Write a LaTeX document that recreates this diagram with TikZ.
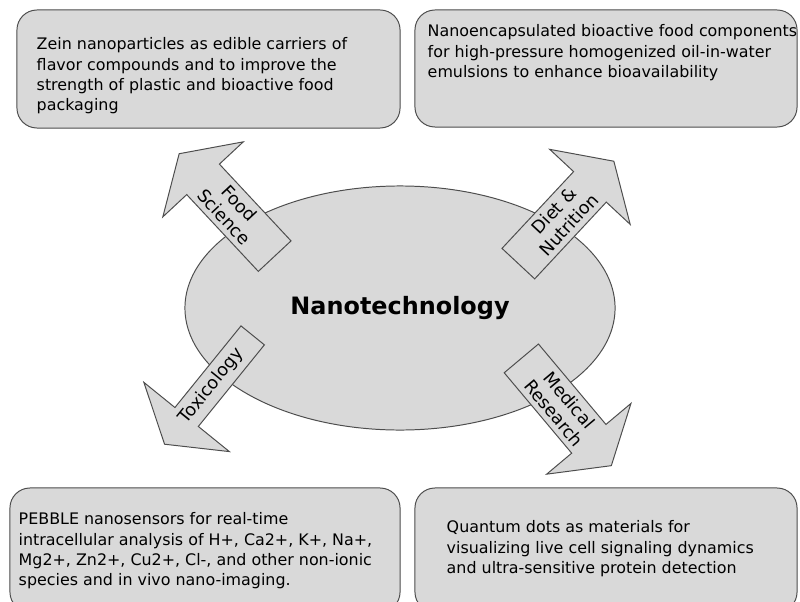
\documentclass[tikz,border=0pt]{standalone}
\usepackage{fontspec}
\setmainfont{DejaVu Sans}
\usetikzlibrary{shapes.geometric,shapes.arrows}

\definecolor{panelfill}{HTML}{D9D9D9}
\definecolor{paneldraw}{HTML}{4D4D4D}

\tikzset{
  panel/.style={draw=paneldraw, fill=panelfill, rounded corners=0.5cm, line width=0.7pt, inner sep=0pt},
  paneltext/.style={anchor=north west, align=left, inner sep=0pt, font=\fontsize{11.3}{14.4}\selectfont},
  topic/.style={single arrow, draw=paneldraw, fill=panelfill, line width=0.7pt,
    minimum height=3.5cm, minimum width=2.75cm, single arrow head extend=0.69cm,
    single arrow tip angle=115, inner sep=1pt, align=center, font=\fontsize{12.5}{14.5}\selectfont},
}

\begin{document}
\begin{tikzpicture}[x=0.025cm, y=0.025cm]
        \useasboundingbox (0,0) rectangle (800,601);
        \clip (0,0) rectangle (800,601);

        % Application boxes
        \node[panel, minimum width=9.575cm, minimum height=2.95cm] (foodbox) at (208.5,532) {};
        \node[panel, minimum width=9.55cm, minimum height=2.925cm] (dietbox) at (606,532.5) {};
        \node[panel, minimum width=9.75cm, minimum height=3.1cm] (toxbox) at (205,51) {};
        \node[panel, minimum width=9.55cm, minimum height=3.1cm] (medbox) at (606,51) {};

        \node[paneltext] (foodtxt) at ([shift={(20,-28)}]foodbox.north west)
          {Zein nanoparticles as edible carriers of\\flavor compounds and to improve the\\strength of plastic and bioactive food\\packaging};
        \node[paneltext] (diettxt) at ([shift={(13,-15)}]dietbox.north west)
          {Nanoencapsulated bioactive food components\\for high-pressure homogenized oil-in-water\\emulsions to enhance bioavailability};
        \node[paneltext] (toxtxt) at ([shift={(9,-25)}]toxbox.north west)
          {PEBBLE nanosensors for real-time\\intracellular analysis of H+, Ca2+, K+, Na+,\\Mg2+, Zn2+, Cu2+, Cl-, and other non-ionic\\species and in vivo nano-imaging.};
        \node[paneltext] (medtxt) at ([shift={(32,-33)}]medbox.north west)
          {Quantum dots as materials for\\visualizing live cell signaling dynamics\\and ultra-sensitive protein detection};

        % Centre
        \node[ellipse, draw=paneldraw, fill=panelfill, line width=0.7pt,
          minimum width=10.75cm, minimum height=6.1cm,
          font=\bfseries\fontsize{17}{20}\selectfont] (nano) at (400,293) {Nanotechnology};

        % Arrows
        \node[topic, rotate=-47, shape border rotate=180, anchor=tail] (food) at (275,344.5) {Food\\Science};
        \node[topic, rotate=47, anchor=tail] (diet) at (518,337) {Diet \&\\Nutrition};
        \node[topic, rotate=51, shape border rotate=180, anchor=tail] (tox) at (253,266) {Toxicology};
        \node[topic, rotate=-50, anchor=tail] (med) at (521,243) {Medical\\Research};
      \end{tikzpicture}
\end{document}
